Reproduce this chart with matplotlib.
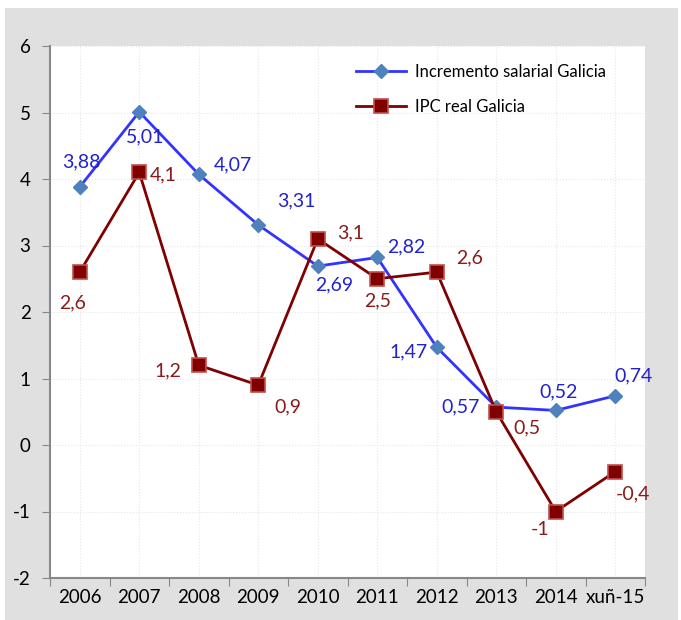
import matplotlib
matplotlib.use("Agg")
import matplotlib.pyplot as plt
from matplotlib.patches import Rectangle
import numpy as np

categories = ["2006", "2007", "2008", "2009", "2010", "2011", "2012", "2013", "2014", "xuñ-15"]
salarial = [3.88, 5.01, 4.07, 3.31, 2.69, 2.82, 1.47, 0.57, 0.52, 0.74]
ipc = [2.6, 4.1, 1.2, 0.9, 3.1, 2.5, 2.6, 0.5, -1, -0.4]
yticks = [-2, -1, 0, 1, 2, 3, 4, 5, 6]

# label offsets in points (dx, dy)
sal_off = [(1.5, 18), (4.3, -18), (24.5, 6.5), (27.4, 17.3), (12.2, -13.7), (20.9, 7.9),
           (-20, -3.6), (-26, 0), (2, 13), (13, 14.4)]
ipc_off = [(-5, -22.3), (17.3, -2), (-22.3, -4.3), (21.6, -15.8), (23.8, 4.3), (0, -15.8),
           (23.8, 10), (22.3, -11.5), (-11.5, -13), (13, -15.8)]

plt.rcParams['font.family'] = ['Lato', 'DejaVu Sans']

fig = plt.figure(figsize=(6.81, 6.20), dpi=100)
fig.patch.set_facecolor('white')
fig.patches.append(Rectangle((5/681, 0), 673/681, 1 - 8/620, transform=fig.transFigure,
                             facecolor='#e0e0e0', edgecolor='none', zorder=-10))
ax = fig.add_axes([50/681, 1 - 578/620, 595/681, 532/620])
ax.set_facecolor('white')

x = np.arange(len(categories))
blue_line = '#3333ff'
red_line = '#7f0000'
ax.plot(x, salarial, color=blue_line, lw=2, marker='D', ms=7, mfc='#4f81bd', mec='#4f81bd',
        label='Incremento salarial Galicia', zorder=3)
ax.plot(x, ipc, color=red_line, lw=2, marker='s', ms=9.5, mfc='#800000', mec='#c0504d', mew=1.2,
        label='IPC real Galicia', zorder=3)

for i, v in enumerate(salarial):
    ax.annotate(f"{v:.2f}".replace('.', ','), (i, v), xytext=sal_off[i], textcoords='offset points',
                ha='center', va='center', fontsize=14, color='#2222cc')
for i, v in enumerate(ipc):
    s = (f"{v:g}").replace('.', ',')
    ax.annotate(s, (i, v), xytext=ipc_off[i], textcoords='offset points',
                ha='center', va='center', fontsize=14, color='#8b1a1a')

ax.set_xlim(-0.5, len(categories) - 0.5)
ax.set_ylim(-2, 6)
ax.set_yticks(yticks)
ax.set_yticklabels([str(t) for t in yticks], fontsize=13.5)
ax.set_xticks(np.arange(-0.5, len(categories), 1.0))
ax.set_xticklabels([])
ax.set_xticks(x, minor=True)
ax.set_xticklabels(categories, minor=True, fontsize=13.5)
ax.tick_params(axis='x', which='minor', length=0, pad=8)
ax.tick_params(axis='x', which='major', length=6, color='#888888', direction='out')
ax.tick_params(axis='y', length=6, color='#888888', direction='out', pad=8)

ax.grid(True, axis='y', which='major', color='#e6e6e6', ls=':', lw=0.8)
ax.grid(True, axis='x', which='minor', color='#e6e6e6', ls=':', lw=0.8)
for s in ['top', 'right']:
    ax.spines[s].set_visible(False)
for s in ['left', 'bottom']:
    ax.spines[s].set_color('#888888')
    ax.spines[s].set_linewidth(1.5)

leg = ax.legend(loc='upper left', bbox_to_anchor=(0.515, 0.966), frameon=False, fontsize=12,
                handlelength=3.0, handletextpad=0.5, labelspacing=1.15, borderpad=0, borderaxespad=0)

fig.savefig('out.png', dpi=100)
